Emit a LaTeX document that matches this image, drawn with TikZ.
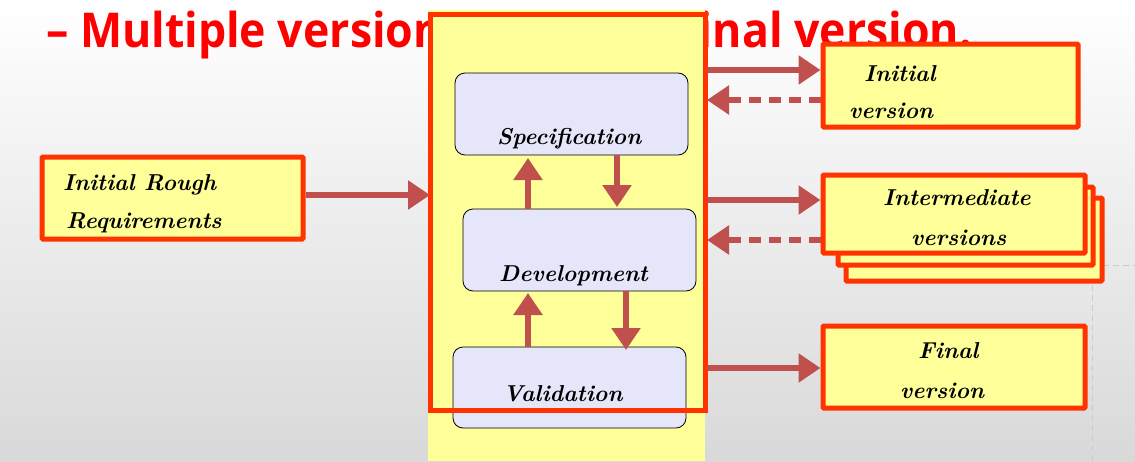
\documentclass[tikz,border=0pt]{standalone}
\usepackage{fontspec}
\newfontfamily\titlefont{Open Sans}
\usetikzlibrary{arrows.meta}
\definecolor{ry}{HTML}{FFFF99}
\definecolor{rb}{HTML}{FF3300}
\definecolor{ar}{HTML}{C0504D}
\definecolor{lav}{HTML}{E6E6FA}
\begin{document}
\begin{tikzpicture}[x=1pt,y=-1pt,
  lbl/.style={font=\fontsize{23}{24}\selectfont\itshape\bfseries, inner sep=0pt, anchor=base west},
  ttl/.style={text=red, font=\titlefont\fontsize{48}{52}\selectfont\bfseries, inner sep=0pt, xscale=0.93, transform shape},
  doc/.style={fill=ry, draw=rb, line width=5pt, rounded corners=1pt},
  phase/.style={fill=lav, draw=black, line width=0.8pt, rounded corners=10pt},
  arr/.style={draw=ar, line width=5.5pt, -{Triangle[length=22pt,width=28pt]}},
  darr/.style={arr, dash pattern=on 12pt off 8pt}]
\useasboundingbox (0,0) rectangle (1135,461);
\shade[top color=white, bottom color=black!15] (0,0) rectangle (1135,461);
\draw[black!20, line width=1pt, dash pattern=on 6pt off 4pt] (1093,265) -- (1135,265) (1092,265) -- (1092,461);
\node[ttl, anchor=base west] (title) at (46,47) {– Multiple versions lead to a};
\node[ttl, anchor=base east] (title2) at (972,47) {final version.};
% column
\fill[ry] (428,10) rectangle (705,461);
\node[phase, minimum width=233pt, minimum height=82pt] (spec) at (571.5,114) {};
\node[phase, minimum width=233pt, minimum height=82pt] (dev) at (579.5,250) {};
\node[phase, minimum width=233pt, minimum height=81pt] (val) at (569.5,387.5) {};
\node[lbl] at (497,144) {Specification};
\node[lbl] at (499,281) {Development};
\node[lbl] at (503,401) {Validation};
\draw[rb, line width=5pt] (430,14) rectangle (705,410);
\coordinate (c) at (430,195);
\path[arr, shorten >=1pt] (528,209) -- (528,157);
\path[arr] (617,155) -- (617,207);
\path[arr] (528,347) -- (528,293);
\path[arr] (626,291) -- (626,350);
% left
\node[doc, minimum width=261pt, minimum height=82pt] (req) at (172.5,198) {};
\node[lbl] at (63,190) {Initial Rough};
\node[lbl] at (66,228) {Requirements};
\path[arr] (req.east) ++(0,-3) -- (c);
% right
\node[doc, minimum width=255pt, minimum height=83pt] (iv) at (950.5,85.5) {};
\node[lbl] at (864,81) {Initial};
\node[lbl] at (849,118) {version};
\node[doc, minimum width=256pt, minimum height=83pt] (i3) at (974,239.5) {};
\node[doc, minimum width=255pt, minimum height=78pt] (i2) at (965.5,226) {};
\node[doc, minimum width=262pt, minimum height=78pt] (iv2) at (954,214) {};
\node[lbl] at (883,205) {Intermediate};
\node[lbl] at (911,245) {versions};
\node[doc, minimum width=262pt, minimum height=82pt] (fv) at (954,367) {};
\node[lbl] at (918,358) {Final};
\node[lbl] at (900,398) {version};
\coordinate (o1) at (707,70); \coordinate (i1) at (707,100);
\coordinate (o2) at (707,200); \coordinate (i2b) at (707,240);
\coordinate (o3) at (707,368);
\path[arr] (o1) -- (iv.west |- o1);
\path[darr] (iv.west |- i1) -- (i1);
\path[arr] (o2) -- (iv2.west |- o2);
\path[darr] (iv2.west |- i2b) -- (i2b);
\path[arr] (o3) -- (fv.west |- o3);
\end{tikzpicture}
\end{document}
